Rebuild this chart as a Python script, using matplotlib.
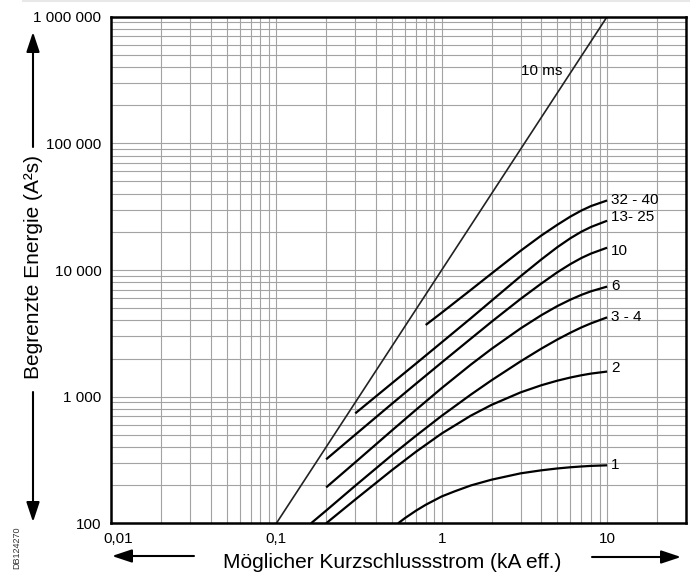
import numpy as np
import matplotlib
matplotlib.use('Agg')
import matplotlib.pyplot as plt
from matplotlib.ticker import LogLocator, NullFormatter
from matplotlib.lines import Line2D

plt.rcParams['font.family'] = ['Liberation Sans', 'DejaVu Sans']

# 10 ms reference line (I²t = I² * 10 ms)
i_10ms = [0.1, 10.0]
e_10ms = [100, 1000000]

# limited energy curves per rating, current in kA, energy in A²s
i_3240 = [0.8, 1, 1.5, 2, 3, 4, 5, 6, 7, 8, 10]
e_3240 = [3680, 4603, 6966, 9376, 14190, 18710, 22750, 26420, 29510, 31990, 35400]

i_1325 = [0.3, 0.5, 0.7, 1, 1.5, 2, 3, 4, 5, 6, 7, 8, 10]
e_1325 = [738, 1276, 1828, 2685, 4159, 5715, 8933, 12110, 15140, 17820, 20090, 21880, 24490]

i_10 = [0.2, 0.3, 0.5, 0.7, 1, 1.5, 2, 3, 4, 5, 6, 7, 8, 10]
e_10 = [320, 501, 879, 1268, 1862, 2871, 3899, 5916, 7816, 9594, 11140, 12450, 13490, 15000]

i_6 = [0.2, 0.3, 0.5, 0.7, 1, 1.5, 2, 3, 4, 5, 6, 7, 8, 10]
e_6 = [192, 303, 541, 789, 1169, 1791, 2382, 3459, 4395, 5188, 5834, 6368, 6792, 7396]

i_34 = [0.162, 0.2, 0.3, 0.5, 0.7, 1, 1.5, 2, 3, 4, 5, 6, 7, 8, 10]
e_34 = [100, 126, 198, 346, 492, 706, 1038, 1346, 1901, 2393, 2825, 3199, 3524, 3793, 4227]

i_2 = [0.2, 0.3, 0.5, 0.7, 1, 1.5, 2, 3, 4, 5, 6, 7, 8, 10]
e_2 = [100, 154, 263, 368, 512, 708, 861, 1081, 1230, 1337, 1416, 1476, 1521, 1578]

i_1 = [0.545, 0.6, 0.7, 0.8, 1, 1.2, 1.5, 2, 3, 4, 5, 6, 7, 8, 10]
e_1 = [100, 110, 126, 140, 163, 179, 199, 221, 248, 262, 271, 277, 281, 284, 287]

curve_labels = ['32 - 40', '13- 25', '10', '6', '3 - 4', '2', '1']
curve_x = [i_3240, i_1325, i_10, i_6, i_34, i_2, i_1]
curve_y = [e_3240, e_1325, e_10, e_6, e_34, e_2, e_1]
label_dy = [0, 2.5, -2.5, 0.5, 0.5, 2.5, 0]  # points

x_ticks = [0.01, 0.1, 1, 10]
x_ticklabels = ['', '0,1', '1', '10']
y_ticks = [100, 1000, 10000, 100000, 1000000]
y_ticklabels = ['100', '1 000', '10 000', '100 000', '1 000 000']

W, H = 690, 574
fig = plt.figure(figsize=(W / 100, H / 100), dpi=100)
ax = fig.add_axes([111 / W, 1 - 523.3 / H, (686 - 111) / W, (523.3 - 16.7) / H])
ax.set_xscale('log')
ax.set_yscale('log')
ax.set_xlim(0.01, 30)
ax.set_ylim(100, 1000000)

ax.xaxis.set_minor_locator(LogLocator(base=10, subs=np.arange(2, 10)))
ax.yaxis.set_minor_locator(LogLocator(base=10, subs=np.arange(2, 10)))
ax.xaxis.set_minor_formatter(NullFormatter())
ax.yaxis.set_minor_formatter(NullFormatter())
ax.set_xticks(x_ticks)
ax.set_xticklabels(x_ticklabels)
ax.set_yticks(y_ticks)
ax.set_yticklabels(y_ticklabels)
ax.tick_params(which='both', length=0, labelsize=11)
ax.tick_params(axis='y', pad=7)
ax.tick_params(axis='x', pad=6)
ax.grid(which='both', color='#a3a3a3', lw=0.8)
ax.set_axisbelow(True)
for s in ax.spines.values():
    s.set_linewidth(1.8)
    s.set_color('black')

# first x label sits a little right of the corner
ax.annotate('0,01', xy=(x_ticks[0], 0), xycoords=('data', 'axes fraction'),
            xytext=(5, -6), textcoords='offset points', ha='center', va='top', fontsize=11)

ax.plot(i_10ms, e_10ms, color='#222222', lw=1.2)
ax.text(3.0, 370000, '10 ms', ha='left', va='center', fontsize=11)

for lbl, xs, ys, dy in zip(curve_labels, curve_x, curve_y, label_dy):
    ax.plot(xs, ys, color='black', lw=1.6, solid_capstyle='butt', solid_joinstyle='round')
    ax.annotate(lbl, xy=(xs[-1], ys[-1]), xytext=(3, dy), textcoords='offset points',
                ha='left', va='center', fontsize=11)

# axis titles with arrows
fig.text(392.5 / W, 5.7 / H, 'Möglicher Kurzschlussstrom (kA eff.)', ha='center',
         va='baseline', fontsize=15)
fig.text(34 / W, 1 - 267 / H, 'Begrenzte Energie (A²s)', rotation=90, ha='center',
         va='center', fontsize=15)

arrow = dict(arrowstyle='-|>,head_length=0.6,head_width=0.2', mutation_scale=20,
             lw=1.5, color='black', shrinkA=0, shrinkB=0)
for start, end in [((33, H - 147), (33, H - 32)), ((33, H - 392), (33, H - 522)),
                   ((194, H - 556), (112, H - 556)), ((592, H - 557), (681, H - 557))]:
    fig.add_artist(plt.Annotation('', xy=end, xytext=start, xycoords='figure pixels',
                                  textcoords='figure pixels', arrowprops=arrow))

fig.text(17 / W, 1 - 548 / H, 'DB124270', rotation=90, ha='center', va='center',
         fontsize=6.5, color='#333333')
fig.add_artist(Line2D([23 / W, 1], [1 - 1 / H, 1 - 1 / H], color='#e8e8e8', lw=1.5))

fig.savefig('out.png', dpi=100)
